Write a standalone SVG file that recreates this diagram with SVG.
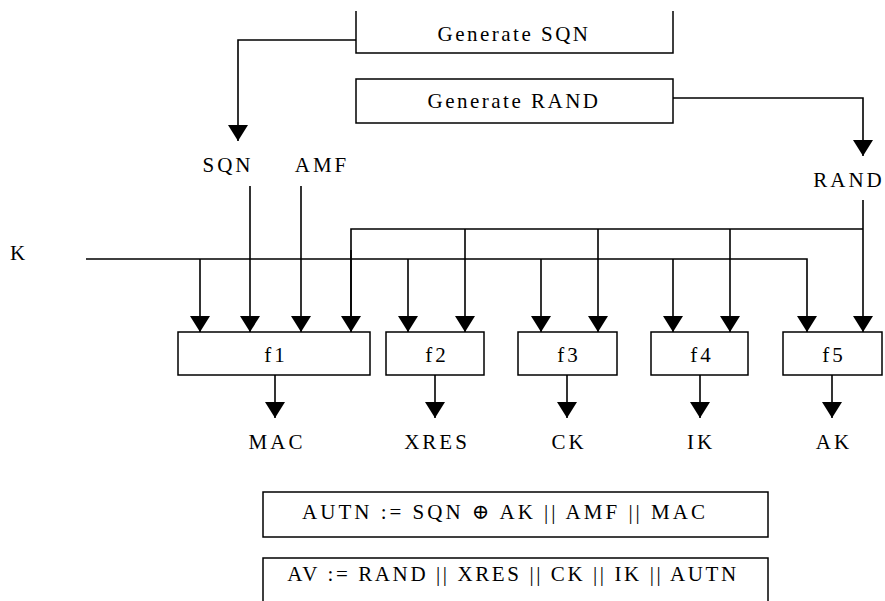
<svg xmlns="http://www.w3.org/2000/svg" width="885" height="601" viewBox="0 0 885 601">
<defs>
<style>
.box{fill:#fff;stroke:#000;stroke-width:1.5}
.ln{fill:none;stroke:#000;stroke-width:1.6}
.t{font-family:'Liberation Serif','DejaVu Serif',serif;font-size:21px;letter-spacing:3px;fill:#000;text-anchor:middle}
.g{letter-spacing:2.5px}
.av{letter-spacing:2.6px}
</style>
<marker id="ah" markerUnits="userSpaceOnUse" markerWidth="16" markerHeight="20" refX="16" refY="10" orient="auto" viewBox="0 0 16 20">
<path d="M0,0 L16,10 L0,20 Z" fill="#000"/>
</marker>
</defs>
<rect width="885" height="601" fill="#fff"/>
<g id="gen-sqn">
<path class="box" d="M356,11 V53 H673 V11"/>
<text class="t g" x="514" y="41">Generate SQN</text>
</g>
<g id="gen-rand">
<rect class="box" x="356" y="79" width="317" height="44"/>
<text class="t g" x="514" y="108">Generate RAND</text>
</g>
<g id="lbl-sqn"><text class="t" x="228" y="172">SQN</text></g>
<g id="lbl-amf"><text class="t" x="322" y="172">AMF</text></g>
<g id="lbl-rand"><text class="t" x="849" y="187">RAND</text></g>
<g id="lbl-k"><text class="t" x="19" y="260">K</text></g>
<g id="f1"><rect class="box" x="178" y="332" width="192" height="43"/><text class="t" x="276" y="362">f1</text></g>
<g id="f2"><rect class="box" x="386" y="332" width="98" height="43"/><text class="t" x="437" y="362">f2</text></g>
<g id="f3"><rect class="box" x="518" y="332" width="99" height="43"/><text class="t" x="569" y="362">f3</text></g>
<g id="f4"><rect class="box" x="651" y="332" width="97" height="43"/><text class="t" x="702" y="362">f4</text></g>
<g id="f5"><rect class="box" x="783" y="332" width="99" height="43"/><text class="t" x="834" y="362">f5</text></g>
<g id="out-mac"><text class="t" x="277" y="449">MAC</text></g>
<g id="out-xres"><text class="t" x="437" y="449">XRES</text></g>
<g id="out-ck"><text class="t" x="569" y="449">CK</text></g>
<g id="out-ik"><text class="t" x="701" y="449">IK</text></g>
<g id="out-ak"><text class="t" x="834" y="449">AK</text></g>
<g id="autn">
<rect class="box" x="263" y="492" width="505" height="45"/>
<text class="t" x="505" y="519">AUTN := SQN ⊕ AK || AMF || MAC</text>
</g>
<g id="av">
<rect class="box" x="263" y="558" width="505" height="60"/>
<text class="t av" x="513" y="581">AV := RAND || XRES || CK || IK || AUTN</text>
</g>
<g id="connectors">
<path class="ln" d="M356,40 H238 V141" marker-end="url(#ah)"/>
<path class="ln" d="M673,98 H863 V156" marker-end="url(#ah)"/>
<path class="ln" d="M86,259 H807 V332" marker-end="url(#ah)"/>
<path class="ln" d="M351,332 V229 H863"/>
<path class="ln" d="M863,200 V332" marker-end="url(#ah)"/>
<path class="ln" d="M200,259 V332" marker-end="url(#ah)"/>
<path class="ln" d="M250,186 V332" marker-end="url(#ah)"/>
<path class="ln" d="M301,186 V332" marker-end="url(#ah)"/>
<path class="ln" d="M351,250 V332" marker-end="url(#ah)"/>
<path class="ln" d="M408,259 V332" marker-end="url(#ah)"/>
<path class="ln" d="M465,229 V332" marker-end="url(#ah)"/>
<path class="ln" d="M541,259 V332" marker-end="url(#ah)"/>
<path class="ln" d="M598,229 V332" marker-end="url(#ah)"/>
<path class="ln" d="M673,259 V332" marker-end="url(#ah)"/>
<path class="ln" d="M730,229 V332" marker-end="url(#ah)"/>
<path class="ln" d="M275,375 V418" marker-end="url(#ah)"/>
<path class="ln" d="M435,375 V418" marker-end="url(#ah)"/>
<path class="ln" d="M567,375 V418" marker-end="url(#ah)"/>
<path class="ln" d="M700,375 V418" marker-end="url(#ah)"/>
<path class="ln" d="M832,375 V418" marker-end="url(#ah)"/>
</g>
</svg>
